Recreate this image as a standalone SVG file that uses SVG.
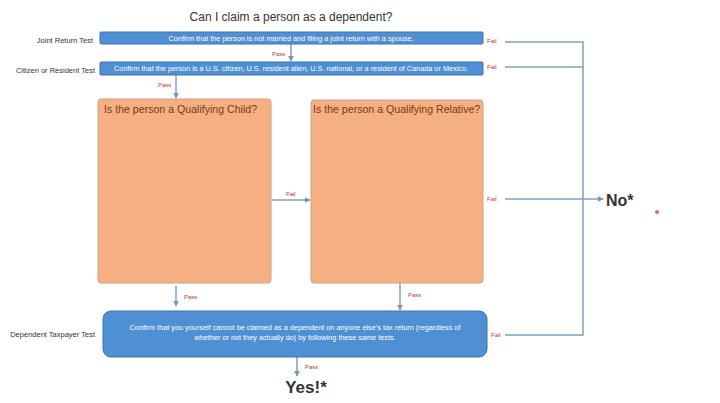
<svg xmlns="http://www.w3.org/2000/svg" width="720" height="403" viewBox="0 0 720 403">
<defs>
<style>
.bar{fill:#4F8FD3;stroke:#3F74B0;stroke-width:1}
.box{fill:#F5AF83;stroke:#C9A48A;stroke-width:1}
.conn{fill:none;stroke:#7FA0C2;stroke-width:1.5}
.lbl{font-family:"Liberation Sans",Arial,sans-serif;font-size:7.5px;fill:#333}
.btxt{font-family:"Liberation Sans",Arial,sans-serif;font-size:7.3px;fill:#fff}
.pass{font-family:"Liberation Sans",Arial,sans-serif;font-size:6px;fill:#C0392B}
.q{font-family:"Liberation Sans",Arial,sans-serif;font-size:10.6px;fill:#7A3A10}
.big{font-family:"Liberation Sans",Arial,sans-serif;font-weight:bold;fill:#333}
</style>
<marker id="ah" viewBox="0 0 10 10" refX="9" refY="5" markerWidth="4" markerHeight="4" orient="auto">
<path d="M0,0 L10,5 L0,10 z" fill="#6F93BA"/>
</marker>
</defs>
<rect width="720" height="403" fill="#fff"/>
<text x="291" y="21" text-anchor="middle" font-family="Liberation Sans,Arial,sans-serif" font-size="12" fill="#333">Can I claim a person as a dependent?</text>

<g id="connectors">
<line class="conn" x1="291" y1="44" x2="291" y2="61" marker-end="url(#ah)"/>
<line class="conn" x1="176" y1="75" x2="176" y2="98" marker-end="url(#ah)"/>
<line class="conn" x1="271" y1="200" x2="310" y2="200" marker-end="url(#ah)"/>
<line class="conn" x1="176" y1="286" x2="176" y2="306" marker-end="url(#ah)"/>
<line class="conn" x1="400" y1="283" x2="400" y2="310" marker-end="url(#ah)"/>
<line class="conn" x1="297" y1="357" x2="297" y2="376" marker-end="url(#ah)"/>
<polyline class="conn" points="505,42 583,42 583,335 505,335"/>
<line class="conn" x1="505" y1="67" x2="583" y2="67"/>
<line class="conn" x1="505" y1="199" x2="603" y2="199" marker-end="url(#ah)"/>
<text class="pass" x="272" y="56">Pass</text>
<text class="pass" x="158" y="87">Pass</text>
<text class="pass" x="286" y="196">Fail</text>
<text class="pass" x="184" y="299">Pass</text>
<text class="pass" x="408" y="297">Pass</text>
<text class="pass" x="305" y="369">Pass</text>
<text class="pass" x="487" y="43">Fail</text>
<text class="pass" x="487" y="69">Fail</text>
<text class="pass" x="487" y="201">Fail</text>
<text class="pass" x="491" y="337">Fail</text>
</g>

<g id="joint-return">
<text class="lbl" x="93" y="43" text-anchor="end">Joint Return Test</text>
<rect class="bar" x="100" y="32" width="383" height="12" rx="1"/>
<text class="btxt" x="291" y="40.5" text-anchor="middle">Confirm that the person is not married and filing a joint return with a spouse.</text>
</g>

<g id="citizen-resident">
<text class="lbl" x="95" y="73" text-anchor="end">Citizen or Resident Test</text>
<rect class="bar" x="100" y="62" width="383" height="13" rx="1"/>
<text class="btxt" x="291" y="71" text-anchor="middle">Confirm that the person is a U.S. citizen, U.S. resident alien, U.S. national, or a resident of Canada or Mexico.</text>
</g>

<g id="qualifying-child">
<rect class="box" x="98" y="99" width="173" height="184" rx="3"/>
<text class="q" x="104" y="113">Is the person a Qualifying Child?</text>
</g>

<g id="qualifying-relative">
<rect class="box" x="311" y="100" width="172" height="183" rx="3"/>
<text class="q" x="313" y="113">Is the person a Qualifying Relative?</text>
</g>

<g id="dependent-taxpayer">
<text class="lbl" x="95" y="337" text-anchor="end">Dependent Taxpayer Test</text>
<rect class="bar" x="103" y="311" width="384" height="46" rx="8"/>
<text class="btxt" x="295" y="330" text-anchor="middle">Confirm that you yourself cannot be claimed as a dependent on anyone else’s tax return (regardless of</text>
<text class="btxt" x="295" y="340" text-anchor="middle">whether or not they actually do) by following these same tests.</text>
</g>

<g id="no">
<text class="big" x="606" y="206" font-size="16">No*</text>
<circle cx="657" cy="212" r="2" fill="#D9657F"/>
</g>

<g id="yes">
<text class="big" x="306" y="393" text-anchor="middle" font-size="17">Yes!*</text>
</g>
</svg>
